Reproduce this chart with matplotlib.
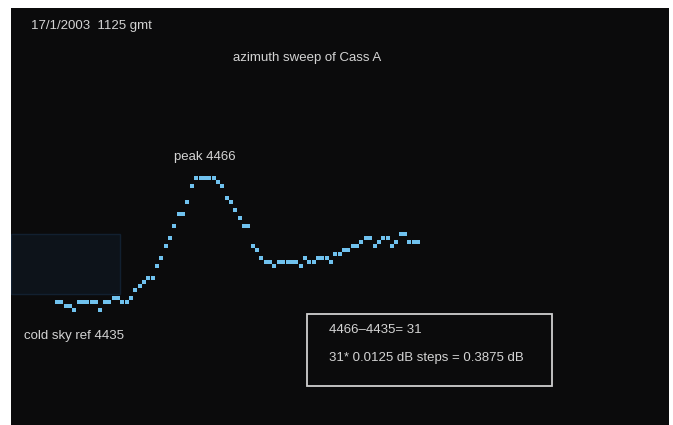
import matplotlib
matplotlib.use("Agg")
import matplotlib.pyplot as plt
from matplotlib.patches import Rectangle

# ── Data: receiver counts along the azimuth sweep ────────────────────────────
counts = [
    4435, 4435, 4434, 4434, 4433, 4435, 4435, 4435, 4435, 4435,
    4433, 4435, 4435, 4436, 4436, 4435, 4435, 4436, 4438, 4439,
    4440, 4441, 4441, 4444, 4446, 4449, 4451, 4454, 4457, 4457,
    4460, 4464, 4466, 4466, 4466, 4466, 4466, 4465, 4464, 4461,
    4460, 4458, 4456, 4454, 4454, 4449, 4448, 4446, 4445, 4445,
    4444, 4445, 4445, 4445, 4445, 4445, 4444, 4446, 4445, 4445,
    4446, 4446, 4446, 4445, 4447, 4447, 4448, 4448, 4449, 4449,
    4450, 4451, 4451, 4449, 4450, 4451, 4451, 4449, 4450, 4452,
    4452, 4450, 4450, 4450,
]
steps = list(range(len(counts)))

title = "azimuth sweep of Cass A"
stamp = "17/1/2003  1125 gmt"
peak_label = "peak 4466"
ref_label = "cold sky ref 4435"
calc_lines = ["4466\u20134435= 31", "31* 0.0125 dB steps = 0.3875 dB"]

W, H = 673, 425
TXT = "#d4d4d4"


def px(x, y):
    """pixel position (top-left origin) -> figure fraction"""
    return x / W, 1 - y / H


fig = plt.figure(figsize=(W / 100, H / 100), dpi=100, facecolor="white")
ax = fig.add_axes([11 / W, 0, 658 / W, 417 / H])
ax.set_facecolor("#0b0b0c")
ax.set_xlim(-10.57, 140.69)
ax.set_ylim(4404.25, 4508.5)
ax.set_xticks([])
ax.set_yticks([])
for s in ax.spines.values():
    s.set_visible(False)

# faint reflection on the screen (left side)
ax.add_patch(Rectangle((-10.5, 4437), 25, 15, facecolor="#0d131a",
                       edgecolor="#122030", lw=1.0))

ax.plot(steps, counts, linestyle="none", marker="s", markersize=2.8,
        markeredgewidth=0, color="#70c2ef")

font = dict(family="Liberation Sans", color=TXT)
fig.text(*px(31, 26), stamp, fontsize=9.5, va="center", ha="left", **font)
fig.text(*px(233, 58), title, fontsize=9.5, va="center", ha="left", **font)
fig.text(*px(174, 157), peak_label, fontsize=9.5, va="center", ha="left", **font)
fig.text(*px(24, 336), ref_label, fontsize=9.5, va="center", ha="left", **font)

# calculation box
x0, y0 = px(307, 386)
x1, y1 = px(552, 314)
fig.add_artist(Rectangle((x0, y0), x1 - x0, y1 - y0, transform=fig.transFigure,
                         facecolor="none", edgecolor="#cfcfcf", lw=1.3))
fig.text(*px(329, 330), calc_lines[0], fontsize=9.5, va="center", ha="left", **font)
fig.text(*px(329, 358), calc_lines[1], fontsize=9.5, va="center", ha="left", **font)

fig.savefig("out.png", dpi=100, facecolor="white")
